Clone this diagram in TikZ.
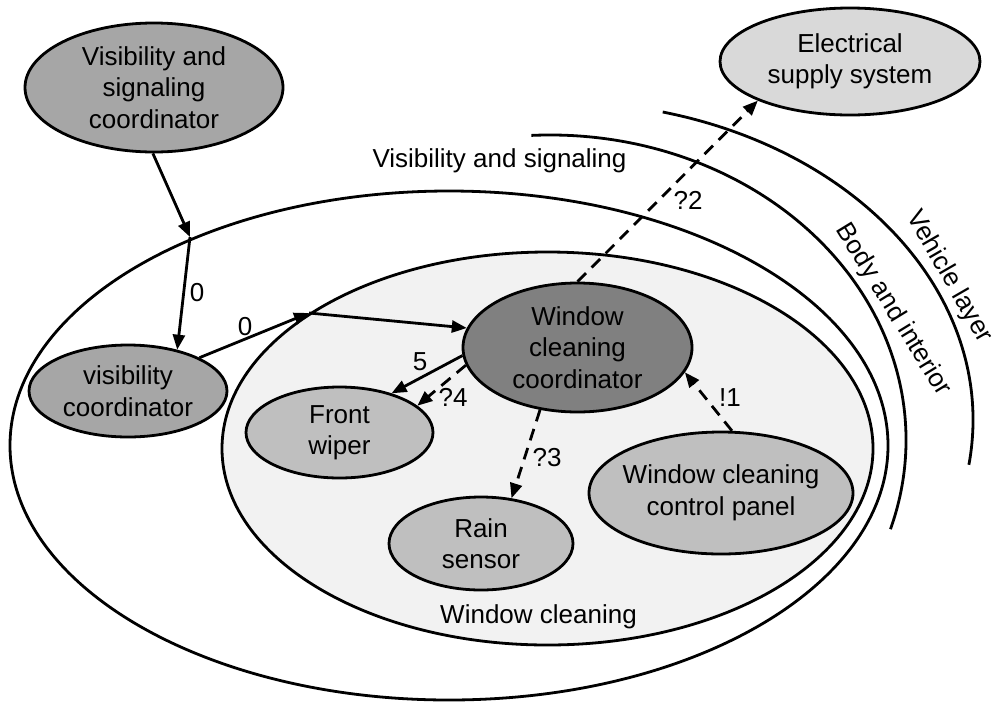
\documentclass[tikz,border=0pt]{standalone}
\usepackage{fontspec}
\setmainfont{Liberation Sans}
\usetikzlibrary{arrows.meta,shapes.geometric}
\definecolor{coordgray}{RGB}{166,166,166}
\definecolor{darkcoord}{RGB}{128,128,128}
\definecolor{devgray}{RGB}{191,191,191}
\definecolor{supplygray}{RGB}{217,217,217}
\definecolor{areagray}{RGB}{242,242,242}
\begin{document}
\begin{tikzpicture}[x=1pt,y=-1pt,
  every node/.style={font=\fontsize{26}{31.5}\selectfont},
  blob/.style={ellipse, draw, line width=2.8pt, inner sep=0pt, align=center},
  conn/.style={line width=2.8pt, -{Triangle[length=15pt,width=12pt]}},
  dconn/.style={conn, dash pattern=on 12pt off 8pt},
  boundary/.style={line width=2.8pt},
  lbl/.style={inner sep=0pt}]
\useasboundingbox (0,0) rectangle (992,702);

% nested layers
\draw[boundary, fill=white] (449,445.5) ellipse [x radius=439, y radius=254.5];
\draw[boundary, fill=areagray] (547.5,448.5) ellipse [x radius=325.5, y radius=196.5];
\draw[boundary] (531.4,135.4) arc[start angle=-93, end angle=17, x radius=356, y radius=305];
\draw[boundary] (662.7,112) arc[start angle=-75.6, end angle=8.1, x radius=413, y radius=318];

% layer names
\node[anchor=base] (vsarea) at (499.5,167) {Visibility and signaling};
\node[anchor=base] (wcarea) at (538.5,623) {Window cleaning};
\node[rotate=-58.5] (bodyarea) at (893,310) {Body and interior};
\node[rotate=-60] (vehlayer) at (949,277) {Vehicle layer};

% components
\node[blob, fill=coordgray, minimum width=258pt, minimum height=129pt] (vsc) at (154,87.5) {Visibility and\\signaling\\coordinator};
\node[blob, fill=coordgray, minimum width=198pt, minimum height=92pt] (vc) at (128,391) {visibility\\coordinator};
\node[blob, fill=darkcoord, minimum width=229pt, minimum height=129pt] (wcc) at (577.5,347.5) {Window\\cleaning\\coordinator};
\node[blob, fill=devgray, minimum width=187pt, minimum height=91pt] (fw) at (339.5,432.5) {Front\\wiper};
\node[blob, fill=devgray, minimum width=184pt, minimum height=93pt] (rs) at (481,543.5) {Rain\\sensor};
\node[blob, fill=devgray, minimum width=264pt, minimum height=122pt, inner xsep=-15pt] (wccp) at (721,493) {Window cleaning\\control panel};
\node[blob, fill=supplygray, minimum width=260pt, minimum height=107pt] (ess) at (850,61.5) {Electrical\\supply system};

% layer crossings
\coordinate (j1) at (190,237);
\coordinate (j2) at (309,313);

% connections
\draw[conn] (vsc.-91) -- (j1);
\draw[conn] (j1) -- (vc.40);
\draw[conn] (vc.25) -- (j2);
\draw[conn] (j2) -- (wcc.170);
\draw[conn] (wcc.184) -- (fw.37);
\draw[dconn] (wcc.189) -- (fw.19);
\draw[dconn] (wcc.239) -- (rs.56);
\draw[dconn] (wccp.80) -- (wcc.-13);
\draw[dconn] (wcc.north) -- (ess.203);

% connection labels
\node[lbl] (l0a) at (197,293) {0};
\node[lbl] (l0b) at (245,327) {0};
\node[lbl] (l5) at (420,362) {5};
\node[lbl] (l4) at (453,397) {?4};
\node[lbl] (l3) at (547,458) {?3};
\node[lbl] (l1) at (730,398) {!1};
\node[lbl] (l2) at (688,200) {?2};
\end{tikzpicture}
\end{document}
